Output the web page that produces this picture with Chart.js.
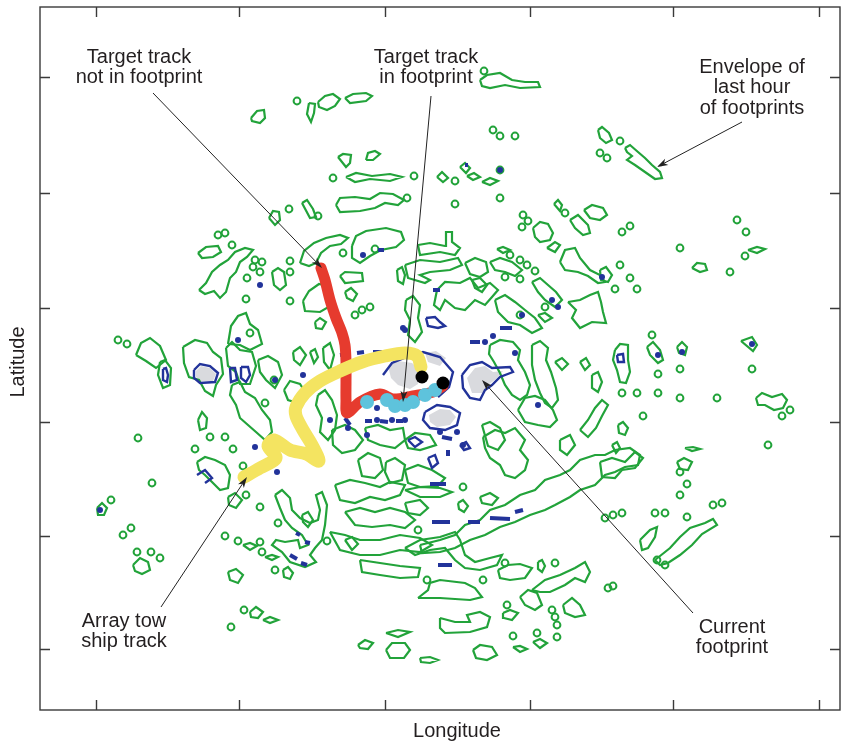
<!DOCTYPE html>
<html><head><meta charset="utf-8">
<script src="https://cdn.jsdelivr.net/npm/chart.js@4/dist/chart.umd.min.js"></script>
<style>html,body{margin:0;padding:0;background:#fff}canvas{display:block}</style>
</head><body>
<canvas id="c" width="841" height="742"></canvas>
<script>
// Plot units: x = longitude (east to the right), y = latitude grid row (north at top)
const lonTicks = [96, 239, 385, 530, 673, 819];
const latTicks = [77, 193, 308, 422, 536, 649];

// Envelope of the last hour of footprints: larger closed contours
const envelopeContours = [
  [[251,118],[257,111],[264,110],[265,118],[260,123],[252,121]],
  [[309,103],[315,104],[314,113],[311,122],[307,114]],
  [[318,102],[325,96],[333,94],[340,99],[335,106],[327,110],[319,107]],
  [[345,98],[353,94],[366,93],[372,96],[366,101],[350,103]],
  [[480,80],[487,75],[500,73],[512,80],[525,82],[538,82],[540,87],[520,88],[505,85],[490,88],[482,86]],
  [[598,130],[602,127],[609,133],[612,140],[606,143],[600,138]],
  [[625,148],[630,145],[638,152],[645,158],[652,165],[660,172],[662,178],[655,179],[645,172],[635,165],[627,160],[632,156],[627,152]],
  [[338,157],[343,154],[351,155],[350,163],[346,167]],
  [[366,160],[368,153],[375,151],[380,154],[373,160]],
  [[346,177],[356,173],[372,176],[390,174],[402,177],[390,181],[370,179],[355,182]],
  [[336,205],[340,198],[355,197],[370,199],[380,193],[393,194],[404,200],[398,205],[385,203],[375,208],[360,211],[340,212]],
  [[302,203],[307,200],[313,209],[316,217],[310,218]],
  [[269,218],[273,211],[279,212],[280,220],[275,225]],
  [[437,177],[442,172],[448,178],[443,182]],
  [[460,167],[465,163],[470,168],[466,173]],
  [[467,176],[474,173],[480,177],[473,180]],
  [[482,182],[490,178],[498,181],[490,185]],
  [[418,245],[430,243],[445,246],[446,232],[452,232],[452,242],[460,248],[455,255],[440,252],[420,255]],
  [[405,265],[420,260],[440,262],[458,258],[462,265],[450,270],[430,272],[420,275],[430,280],[425,283],[408,278]],
  [[533,228],[540,222],[548,224],[553,233],[550,240],[540,242],[535,237]],
  [[547,248],[555,242],[560,245],[555,252]],
  [[554,204],[558,200],[562,205],[560,211]],
  [[570,220],[578,215],[588,225],[590,233],[583,235],[575,228]],
  [[584,210],[592,205],[603,208],[607,215],[600,220],[590,218]],
  [[497,249],[503,247],[510,250],[503,253]],
  [[490,262],[500,258],[512,262],[522,270],[515,276],[505,272],[495,270]],
  [[465,263],[475,258],[486,262],[488,272],[480,277],[470,274]],
  [[472,280],[480,278],[487,285],[482,292],[475,288]],
  [[437,290],[445,282],[460,283],[470,278],[478,288],[490,283],[498,290],[492,297],[485,305],[475,300],[465,310],[455,308],[445,300],[440,310],[434,305]],
  [[495,300],[505,295],[515,302],[525,310],[535,318],[542,328],[532,333],[520,325],[508,322],[498,312]],
  [[406,300],[413,296],[420,305],[418,318],[422,332],[415,342],[408,335],[410,320],[405,310]],
  [[532,282],[540,278],[548,285],[556,292],[562,300],[555,307],[545,300],[538,292]],
  [[560,262],[565,250],[575,248],[580,258],[590,270],[600,275],[605,282],[598,283],[588,276],[578,272],[565,270]],
  [[568,302],[580,300],[590,295],[598,292],[601,302],[603,312],[606,323],[592,322],[580,328],[572,318],[576,310]],
  [[538,315],[545,313],[552,318],[545,322]],
  [[692,268],[697,263],[705,264],[707,270],[700,272]],
  [[748,250],[757,247],[765,249],[757,253]],
  [[741,341],[752,337],[757,345],[753,351]],
  [[647,347],[653,342],[660,350],[663,360],[658,363],[650,355]],
  [[677,347],[682,342],[687,347],[685,355],[679,353]],
  [[615,350],[620,344],[628,345],[628,360],[630,372],[626,383],[620,382],[617,370],[613,360]],
  [[600,270],[606,267],[612,275],[608,282],[601,280]],
  [[756,398],[762,393],[772,397],[782,394],[787,400],[783,408],[774,410],[765,405],[758,405]],
  [[618,425],[623,422],[628,428],[625,435],[619,433]],
  [[612,445],[617,442],[620,448],[616,453]],
  [[600,462],[612,458],[625,462],[635,452],[643,458],[635,468],[622,470],[615,478],[602,477]],
  [[685,448],[693,447],[700,449],[692,451]],
  [[677,462],[684,458],[692,462],[688,470],[680,469]],
  [[655,560],[670,548],[680,537],[690,528],[705,523],[713,519],[717,525],[702,534],[692,545],[680,555],[668,563],[660,565]],
  [[640,540],[650,530],[657,527],[655,537],[648,548],[642,550]],
  // west of the target
  [[199,290],[206,283],[212,272],[220,265],[228,260],[235,252],[245,248],[253,250],[247,257],[240,262],[236,272],[230,278],[226,292],[220,298],[214,291],[205,294]],
  [[198,253],[206,247],[218,246],[221,252],[213,257],[202,258]],
  [[272,272],[278,268],[284,272],[286,285],[280,290],[274,285]],
  [[300,263],[304,251],[314,243],[326,238],[340,235],[348,238],[341,244],[330,246],[321,253],[316,263],[309,266]],
  [[340,276],[345,272],[362,273],[363,281],[345,283]],
  [[303,301],[309,291],[319,284],[329,286],[325,295],[332,305],[320,312],[305,311]],
  [[315,322],[320,318],[326,322],[322,329],[316,328]],
  [[345,292],[351,288],[357,294],[353,301],[347,298]],
  [[352,246],[356,236],[366,231],[386,228],[401,232],[404,240],[396,247],[381,250],[370,256],[360,263],[352,258]],
  [[397,270],[402,267],[405,275],[403,284],[398,281]],
  [[228,344],[231,326],[238,316],[246,313],[250,324],[258,330],[262,344],[250,350],[240,345]],
  [[136,355],[141,343],[150,338],[160,346],[166,360],[156,368],[146,361]],
  [[183,347],[195,340],[207,343],[213,352],[221,358],[223,374],[216,385],[213,396],[205,391],[199,380],[189,377],[184,363]],
  [[160,362],[165,360],[171,368],[170,385],[163,388],[158,375]],
  [[226,348],[232,342],[240,350],[252,352],[256,366],[250,384],[240,384],[236,372],[228,366]],
  [[232,385],[240,382],[245,392],[255,398],[262,410],[270,420],[272,432],[265,440],[256,432],[248,425],[240,418],[236,405],[230,395]],
  [[198,420],[202,412],[207,418],[206,428],[200,430]],
  [[197,462],[205,457],[215,460],[225,465],[230,475],[228,488],[220,490],[212,482],[205,475],[199,470]],
  [[293,352],[300,347],[306,355],[300,365],[294,360]],
  [[310,352],[315,349],[318,357],[314,363]],
  [[323,348],[330,343],[334,355],[330,370],[324,362]],
  [[284,390],[290,381],[300,384],[307,395],[298,403],[288,400]],
  [[258,360],[268,356],[278,362],[282,375],[275,388],[266,380],[260,372]],
  // south of the tracks
  [[318,395],[325,390],[332,400],[337,415],[335,430],[328,440],[320,432],[322,418],[316,405]],
  [[332,430],[345,425],[355,430],[363,440],[355,450],[342,453],[333,445]],
  [[365,428],[378,425],[390,430],[403,428],[405,440],[395,448],[380,445],[368,440]],
  [[358,460],[368,453],[380,458],[383,470],[375,478],[362,476]],
  [[386,462],[395,458],[405,465],[402,480],[390,483],[385,472]],
  [[405,440],[415,433],[430,435],[436,445],[420,450],[408,448]],
  [[405,470],[418,465],[432,470],[445,478],[438,486],[420,487],[408,483]],
  [[482,425],[490,422],[500,428],[505,440],[498,450],[488,446]],
  [[335,485],[350,480],[365,483],[380,487],[390,482],[405,485],[400,495],[385,500],[370,497],[355,503],[340,500]],
  [[345,512],[360,508],[375,512],[390,508],[405,512],[415,520],[405,528],[390,525],[372,527],[355,525]],
  [[330,532],[345,535],[360,540],[380,540],[400,535],[420,538],[432,545],[420,552],[400,550],[380,555],[360,555],[340,550]],
  [[275,495],[282,490],[290,498],[292,510],[300,518],[310,523],[318,520],[320,510],[316,495],[322,492],[327,505],[325,525],[322,540],[315,548],[310,555],[316,562],[305,567],[290,562],[282,552],[272,545],[276,540],[285,542],[298,540],[300,548],[308,545],[302,535],[292,528],[285,520],[280,508]],
  [[302,515],[308,512],[313,520],[308,527],[303,522]],
  [[345,540],[352,537],[358,544],[352,550]],
  [[228,497],[235,493],[242,500],[236,508],[229,505]],
  [[228,572],[236,569],[243,575],[238,583],[230,580]],
  [[283,570],[288,567],[293,573],[290,579],[284,577]],
  [[250,612],[256,607],[263,612],[258,618],[251,617]],
  [[263,620],[270,617],[278,620],[270,623]],
  [[243,545],[250,543],[257,546],[250,550]],
  [[265,557],[272,555],[278,557],[272,560]],
  [[133,565],[140,558],[148,562],[150,570],[142,574],[135,571]],
  [[97,508],[102,503],[107,508],[104,515],[98,515]],
  [[360,560],[380,563],[400,566],[420,568],[418,577],[400,578],[380,575],[362,572]],
  // east of the footprint
  [[405,490],[420,487],[440,488],[452,492],[440,497],[420,497]],
  [[405,503],[420,500],[428,508],[420,515],[408,513]],
  [[458,503],[463,500],[468,506],[464,512],[459,509]],
  [[480,497],[490,493],[498,498],[492,505],[482,503]],
  [[405,548],[420,540],[440,537],[455,532],[460,540],[465,555],[475,562],[490,558],[502,555],[497,565],[480,570],[465,568],[455,560],[445,548],[430,550],[415,555]],
  [[498,570],[508,565],[520,564],[532,568],[525,578],[510,580],[500,578]],
  [[538,562],[542,560],[545,566],[542,572],[538,569]],
  [[418,598],[428,590],[430,583],[440,580],[465,583],[475,588],[482,597],[470,600],[440,598]],
  [[532,590],[545,580],[560,575],[575,568],[585,562],[590,572],[585,582],[575,578],[565,585],[550,592],[540,592]],
  [[520,597],[528,590],[537,593],[542,605],[535,610],[525,605]],
  [[503,613],[510,610],[518,613],[512,620],[504,618]],
  [[563,605],[572,598],[580,605],[585,615],[575,617],[565,613]],
  [[420,545],[440,540],[455,535],[465,525],[480,520],[490,510],[505,505],[520,495],[535,490],[545,480],[560,475],[570,470],[580,460],[595,455],[605,455],[615,450],[630,448],[640,455],[638,465],[625,467],[615,472],[605,475],[595,485],[580,490],[570,497],[555,505],[545,510],[530,515],[515,522],[500,527],[485,535],[470,540],[455,548],[440,552],[422,553]],
  [[483,437],[495,430],[505,433],[515,428],[525,440],[520,450],[528,460],[525,470],[515,478],[505,475],[500,465],[490,458],[485,448]],
  [[490,345],[500,340],[513,342],[520,350],[518,360],[525,372],[530,385],[527,395],[520,400],[512,395],[505,385],[500,373],[494,362],[489,354]],
  [[532,345],[540,341],[548,348],[546,360],[551,372],[556,388],[558,400],[552,408],[545,403],[540,393],[535,380],[532,365]],
  [[555,362],[562,358],[568,364],[562,370]],
  [[580,362],[586,358],[590,365],[585,370]],
  [[518,410],[525,398],[535,396],[545,400],[553,410],[557,420],[550,427],[538,425],[525,422]],
  [[580,430],[588,420],[595,408],[602,400],[608,405],[602,416],[596,428],[588,437]],
  [[592,375],[598,372],[602,382],[598,392],[592,388]],
  [[560,440],[570,435],[575,445],[567,455],[560,450]],
  [[440,618],[455,622],[470,622],[467,615],[480,612],[490,617],[487,627],[470,632],[445,633],[440,628]],
  [[473,650],[480,645],[492,647],[497,655],[487,660],[476,658]],
  [[420,658],[430,657],[438,660],[430,663],[421,662]],
  [[513,647],[520,646],[527,649],[520,652]],
  [[533,642],[540,639],[547,643],[540,648]],
  [[386,633],[398,630],[410,632],[398,637]],
  [[386,650],[392,643],[405,643],[410,650],[404,658],[390,658]],
  [[358,645],[365,640],[373,643],[368,649],[360,648]]
];

// Small closed contours of the envelope
const envelopeSpots = [
  [297,101],[333,178],[414,176],[407,198],[289,209],[318,216],[218,235],[225,233],[232,245],[484,71],
  [620,141],[600,153],[607,158],[493,130],[500,136],[515,136],[455,181],[500,170],[500,198],[455,204],
  [523,215],[528,221],[522,227],[565,213],[622,232],[630,226],[510,255],[520,260],[527,265],[535,271],
  [505,277],[520,279],[620,265],[630,278],[637,289],[615,289],[680,248],[730,272],[737,220],[746,232],[745,256],
  [375,249],[255,260],[262,262],[253,267],[260,272],[247,278],[290,261],[290,272],[246,299],[290,301],
  [343,253],[355,315],[362,310],[370,307],[250,333],[118,340],[127,344],[195,449],[210,437],[225,437],
  [233,449],[138,438],[152,483],[111,500],[123,535],[131,528],[137,552],[151,552],[160,558],[243,466],
  [246,495],[260,507],[278,523],[327,541],[225,536],[238,541],[260,542],[262,552],[275,570],[244,610],
  [231,627],[265,403],[274,380],
  [652,335],[658,374],[680,369],[752,369],[622,393],[637,393],[658,393],[680,398],[717,398],[782,416],
  [790,410],[643,416],[768,445],[680,472],[687,484],[680,495],[605,518],[613,515],[622,513],[655,513],
  [665,513],[687,517],[713,505],[722,503],[657,560],[665,565],[613,586],[608,588],
  [463,487],[418,530],[483,580],[505,563],[555,563],[427,580],[507,605],[552,610],[555,617],[513,636],
  [557,637],[557,625],[537,633],[520,315],[545,307]
];

// Current footprint edges and detections
const footprintEdges = [
  [[462,375],[470,365],[482,362],[492,368],[510,367],[513,372],[500,377],[492,385],[485,390],[480,400],[470,398],[463,388],[462,375]],
  [[425,412],[437,405],[450,407],[460,413],[457,425],[445,430],[430,428],[423,420],[425,412]],
  [[383,375],[392,363],[407,357],[423,352],[440,357],[453,372],[449,387],[438,397]],
  [[194,370],[200,364],[210,366],[218,373],[215,382],[200,383],[194,378],[194,370]],
  [[426,318],[435,317],[440,322],[445,326],[438,328],[428,326],[426,318]],
  [[408,440],[415,437],[422,442],[415,447],[408,440]],
  [[428,458],[435,455],[438,463],[432,468],[428,458]],
  [[460,445],[466,442],[470,448],[464,450],[460,445]],
  [[163,369],[166,368],[168,375],[167,382],[163,380],[163,369]],
  [[230,368],[235,368],[237,380],[231,382],[230,368]],
  [[241,367],[248,367],[250,375],[246,382],[241,378],[241,367]],
  [[617,355],[623,354],[624,362],[618,362],[617,355]],
  [[197,475],[205,470],[212,478],[205,483]]
];
const footprintDashes = [
  [[340,355],[347,354]],[[357,353],[364,352]],[[373,352],[382,352]],[[393,352],[400,351]],
  [[365,421],[372,421]],[[380,421],[388,422]],[[396,421],[403,421]],
  [[432,522],[450,522]],[[468,522],[480,522]],[[490,518],[510,519]],[[515,512],[523,510]],
  [[430,484],[446,484]],[[438,565],[452,565]],[[433,290],[440,290]],[[500,328],[512,328]],
  [[470,342],[480,342]],[[345,418],[350,425]],[[442,437],[452,439]],[[448,450],[448,456]],
  [[296,533],[300,535]],[[305,542],[310,543]],[[290,555],[297,559]],[[301,563],[307,565]],
  [[378,250],[384,250]],[[465,165],[468,165]]
];
const footprintSpots = [
  [515,353],[538,405],[485,342],[405,420],[457,432],[463,445],[377,408],[348,428],[277,472],[255,447],
  [303,375],[275,380],[493,336],[522,315],[552,300],[558,307],[602,277],[363,255],[260,285],[327,295],
  [403,328],[238,340],[100,510],[377,420],[392,420],[330,420],[405,330],[658,355],[682,352],[752,344],
  [500,170],[440,432],[367,435]
];

// Grey footprint areas
const footprintAreas = [
  [[388,366],[398,361],[412,363],[420,370],[418,384],[410,389],[398,385],[391,378]],
  [[425,353],[436,351],[446,358],[440,366],[428,362]],
  [[467,378],[475,368],[485,366],[493,372],[503,371],[496,379],[488,385],[482,393],[472,393]],
  [[429,415],[440,409],[450,410],[456,417],[450,425],[437,427],[430,422]],
  [[196,371],[201,366],[210,368],[216,374],[213,381],[200,381],[196,377]]
];

// Tracks
const targetTrackOut = [[321,268],[325,280],[330,300],[336,318],[342,333],[345,345],[346,362],[346,382],[346,400],[347,413],[360,402],[380,394],[393,399],[413,396],[433,392],[443,386]];
const targetTrackIn = [[367,402],[387,400],[395,406],[405,405],[413,402],[425,395],[435,390]];
const targetFixes = [[422,377],[443,383]];
const towShipTrack = [[244,477],[260,468],[276,458],[268,446],[274,440],[290,450],[306,454],[319,461],[312,445],[303,430],[296,416],[296,407],[305,393],[320,381],[340,371],[362,362],[385,356],[405,353],[417,356],[421,367]];

const xy = p => ({x: p[0], y: p[1]});
const GREEN = '#22a33a', BLUE = '#22339a';

const datasets = [];
datasets.push({data: targetFixes.map(xy), pointRadius: 6.5, pointBackgroundColor: '#000', pointBorderWidth: 0, showLine: false, order: 0});
datasets.push({data: targetTrackIn.map(xy), pointRadius: 7, pointBackgroundColor: '#5ec3dc', pointBorderWidth: 0, showLine: false, order: 1});
datasets.push({data: towShipTrack.map(xy), showLine: true, borderColor: '#f4e461', borderWidth: 13, pointRadius: 0, borderCapStyle: 'round', borderJoinStyle: 'round', tension: 0.3, order: 2});
datasets.push({data: targetTrackOut.map(xy), showLine: true, borderColor: '#e63b2e', borderWidth: 11, pointRadius: 0, borderCapStyle: 'round', borderJoinStyle: 'round', tension: 0.3, order: 3});
footprintEdges.forEach(poly => datasets.push({data: poly.map(xy), showLine: true, borderColor: BLUE, borderWidth: 2.4, pointRadius: 0, order: 4}));
footprintDashes.forEach(seg => datasets.push({data: seg.map(xy), showLine: true, borderColor: BLUE, borderWidth: 4, pointRadius: 0, order: 4}));
datasets.push({data: footprintSpots.map(xy), showLine: false, pointRadius: 3, pointBackgroundColor: BLUE, pointBorderWidth: 0, order: 4});
envelopeContours.forEach(poly => datasets.push({data: poly.concat([poly[0]]).map(xy), showLine: true, borderColor: GREEN, borderWidth: 2.2, pointRadius: 0, order: 5}));
datasets.push({data: envelopeSpots.map(xy), showLine: false, pointRadius: 3.4, pointBorderColor: GREEN, pointBackgroundColor: 'rgba(255,255,255,0)', pointBorderWidth: 2, order: 5});
footprintAreas.forEach(poly => datasets.push({data: poly.concat([poly[0]]).map(xy), showLine: true, fill: 'shape', backgroundColor: '#d9dade', borderColor: 'rgba(0,0,0,0)', borderWidth: 0, pointRadius: 0, order: 6}));

const FONT = '20px "Liberation Sans", Arial, sans-serif';
const callouts = [
  {lines: ['Target track', 'not in footprint'], at: [139, 57], from: [153, 93], to: [322, 268]},
  {lines: ['Target track', 'in footprint'], at: [426, 57], from: [431, 96], to: [403, 402]},
  {lines: ['Envelope of', 'last hour', 'of footprints'], at: [752, 67], from: [742, 122], to: [657, 167]},
  {lines: ['Array tow', 'ship track'], at: [124, 621], from: [161, 607], to: [247, 477]},
  {lines: ['Current', 'footprint'], at: [732, 627], from: [693, 613], to: [482, 380]}
];

const framePlugin = {
  id: 'frame',
  afterDatasetsDraw(chart) {
    const {ctx, chartArea: a, scales: {x, y}} = chart;
    ctx.save();
    // axis box and inward ticks
    ctx.strokeStyle = '#3a3a3a';
    ctx.lineWidth = 1.4;
    ctx.strokeRect(a.left, a.top, a.right - a.left, a.bottom - a.top);
    ctx.beginPath();
    lonTicks.forEach(v => {
      const px = Math.round(x.getPixelForValue(v)) + 0.5;
      ctx.moveTo(px, a.bottom); ctx.lineTo(px, a.bottom - 10);
      ctx.moveTo(px, a.top); ctx.lineTo(px, a.top + 10);
    });
    latTicks.forEach(v => {
      const py = Math.round(y.getPixelForValue(v)) + 0.5;
      ctx.moveTo(a.left, py); ctx.lineTo(a.left + 10, py);
      ctx.moveTo(a.right, py); ctx.lineTo(a.right - 10, py);
    });
    ctx.stroke();

    // axis titles
    ctx.fillStyle = '#231f20';
    ctx.font = FONT;
    ctx.textAlign = 'center';
    ctx.textBaseline = 'middle';
    ctx.fillText('Longitude', 457, 731);
    ctx.save();
    ctx.translate(18, 362);
    ctx.rotate(-Math.PI / 2);
    ctx.fillText('Latitude', 0, 0);
    ctx.restore();

    // callouts with arrows
    callouts.forEach(c => {
      c.lines.forEach((t, i) => ctx.fillText(t, x.getPixelForValue(c.at[0]), y.getPixelForValue(c.at[1]) + i * 20.5));
      const x0 = x.getPixelForValue(c.from[0]), y0 = y.getPixelForValue(c.from[1]);
      const x1 = x.getPixelForValue(c.to[0]), y1 = y.getPixelForValue(c.to[1]);
      const ang = Math.atan2(y1 - y0, x1 - x0);
      ctx.strokeStyle = '#222';
      ctx.lineWidth = 1;
      ctx.beginPath();
      ctx.moveTo(x0, y0);
      ctx.lineTo(x1 - 8 * Math.cos(ang), y1 - 8 * Math.sin(ang));
      ctx.stroke();
      ctx.beginPath();
      ctx.moveTo(x1, y1);
      ctx.lineTo(x1 - 11 * Math.cos(ang) + 3.5 * Math.sin(ang), y1 - 11 * Math.sin(ang) - 3.5 * Math.cos(ang));
      ctx.lineTo(x1 - 8 * Math.cos(ang), y1 - 8 * Math.sin(ang));
      ctx.lineTo(x1 - 11 * Math.cos(ang) - 3.5 * Math.sin(ang), y1 - 11 * Math.sin(ang) + 3.5 * Math.cos(ang));
      ctx.closePath();
      ctx.fillStyle = '#222';
      ctx.fill();
      ctx.fillStyle = '#231f20';
    });
    ctx.restore();
  }
};

new Chart(document.getElementById('c'), {
  type: 'scatter',
  data: {datasets},
  options: {
    responsive: false,
    animation: false,
    devicePixelRatio: 1,
    layout: {autoPadding: false, padding: {left: 40, top: 7, right: 1, bottom: 32}},
    scales: {
      x: {type: 'linear', min: 40, max: 840, display: false},
      y: {type: 'linear', min: 7, max: 710, reverse: true, display: false}
    },
    plugins: {legend: {display: false}, tooltip: {enabled: false}},
    elements: {line: {tension: 0}}
  },
  plugins: [framePlugin]
});
</script>
</body></html>
